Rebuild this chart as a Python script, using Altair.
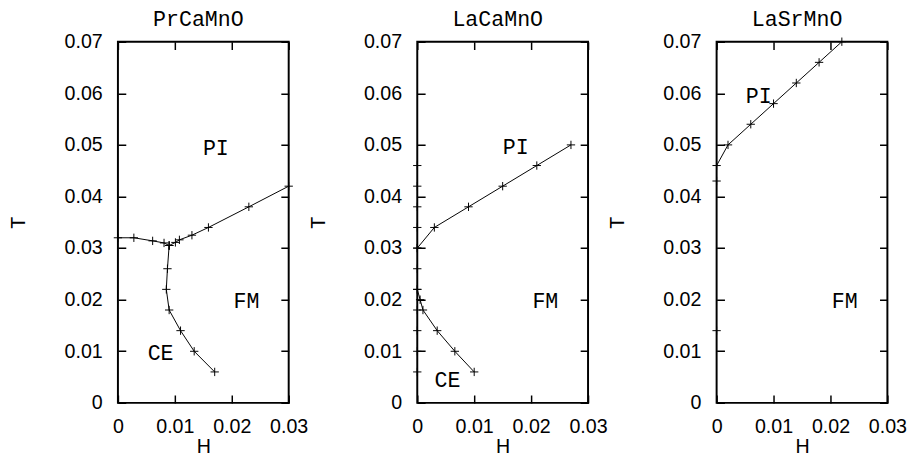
import altair as alt
import pandas as pd

# ---------------- data ----------------
titles = ["PrCaMnO", "LaCaMnO", "LaSrMnO"]

# PrCaMnO
pr_left_H = [0.0, 0.0028, 0.0061, 0.0081, 0.009]
pr_left_T = [0.032, 0.032, 0.0314, 0.031, 0.0305]
pr_right_H = [0.009, 0.0101, 0.0108, 0.013, 0.0159, 0.023, 0.030]
pr_right_T = [0.0305, 0.0311, 0.0316, 0.0325, 0.034, 0.038, 0.042]
pr_down_H = [0.009, 0.0087, 0.0085, 0.009, 0.011, 0.0134, 0.017]
pr_down_T = [0.0305, 0.026, 0.022, 0.018, 0.014, 0.010, 0.006]

# LaCaMnO
lc_pi_H = [0.0, 0.003, 0.009, 0.015, 0.021, 0.027]
lc_pi_T = [0.030, 0.034, 0.038, 0.042, 0.046, 0.050]
lc_ce_H = [0.0, 0.0005, 0.001, 0.0035, 0.0066, 0.010]
lc_ce_T = [0.022, 0.020, 0.018, 0.014, 0.010, 0.006]
lc_axis_T = [0.006, 0.010, 0.014, 0.018, 0.022, 0.026, 0.030, 0.034, 0.038, 0.042, 0.046]

# LaSrMnO
ls_pi_H = [0.0, 0.002, 0.006, 0.010, 0.014, 0.018, 0.022]
ls_pi_T = [0.046, 0.050, 0.054, 0.058, 0.062, 0.066, 0.070]
ls_axis_T = [0.043, 0.014]

# region labels
pr_labels = ["PI", "FM", "CE"]
pr_lab_H = [0.0172, 0.0226, 0.0075]
pr_lab_T = [0.0494, 0.0197, 0.0096]
lc_labels = ["PI", "FM", "CE"]
lc_lab_H = [0.0173, 0.0225, 0.0053]
lc_lab_T = [0.0495, 0.0197, 0.0045]
ls_labels = ["PI", "FM"]
ls_lab_H = [0.0074, 0.0225]
ls_lab_T = [0.0595, 0.0197]

x_range = [0, 0.03]
y_range = [0, 0.07]
x_ticks = [0, 0.01, 0.02, 0.03]
y_ticks = [0, 0.01, 0.02, 0.03, 0.04, 0.05, 0.06, 0.07]

# ---------------- helpers ----------------
W, HGT, TICK = 174, 368, 8


def line_df(segs):
    rows = []
    for name, hs, ts in segs:
        for i, (h, t) in enumerate(zip(hs, ts)):
            rows.append({"seg": name, "ord": i, "H": h, "T": t})
    return pd.DataFrame(rows)


def point_df(segs, axis_T):
    rows = []
    for _, hs, ts in segs:
        for h, t in zip(hs, ts):
            rows.append({"H": h, "T": t})
    for t in axis_T:
        rows.append({"H": 0.0, "T": t})
    return pd.DataFrame(rows)


LAB = "datum.value == 0 ? '0' : format(datum.value, '.2f')"
XS = alt.Scale(domain=x_range, nice=False, zero=False)
YS = alt.Scale(domain=y_range, nice=False, zero=False)
SANS = "Liberation Sans"
MONO = "Liberation Mono"

axis_common = dict(
    domain=False, ticks=False, tickSize=0, labelFlush=False, labelOverlap=False,
    grid=True, gridColor="black", gridOpacity=1, gridWidth=1.5,
    labelFont=SANS, labelFontSize=20, labelColor="black",
    titleFont=SANS, titleFontSize=20, titleFontWeight="normal", titleColor="black",
)
x_axis = alt.Axis(orient="bottom", values=x_ticks, labelExpr=LAB, title="H",
                  labelPadding=14, titlePadding=1,
                  gridDash=[TICK, HGT - 2 * TICK, TICK, 2 * HGT], **axis_common)
y_axis = alt.Axis(orient="left", values=y_ticks, labelExpr=LAB, title="T",
                  labelPadding=16, titlePadding=36,
                  gridDash=[TICK, W - 2 * TICK, TICK, 2 * W], **axis_common)

X_ENC = alt.X("H:Q", scale=XS, axis=x_axis)
Y_ENC = alt.Y("T:Q", scale=YS, axis=y_axis)


def panel(title, segs, axis_T, labels, lab_H, lab_T):
    ldf = line_df(segs)
    pdf = point_df(segs, axis_T)
    tdf = pd.DataFrame({"label": labels, "H": lab_H, "T": lab_T})

    lines = alt.Chart(ldf).mark_line(color="black", strokeWidth=1).encode(
        x=X_ENC, y=Y_ENC, detail="seg:N", order="ord:Q",
    )
    pts = alt.Chart(pdf).mark_point(
        shape="M-1,0L1,0M0,-1L0,1", size=72, filled=False,
        stroke="black", strokeWidth=1, opacity=1,
    ).encode(x=X_ENC, y=Y_ENC)
    txt = alt.Chart(tdf).mark_text(
        font=MONO, fontSize=22, align="center", baseline="middle", color="black"
    ).encode(x=X_ENC, y=Y_ENC, text="label:N")
    return alt.layer(lines, pts, txt).properties(
        width=W, height=HGT,
        title=alt.TitleParams(text=title, font=MONO, fontSize=22,
                              fontWeight="normal", color="black", offset=1,
                              anchor="middle", dx=-5),
    )


p1 = panel(titles[0],
           [("a", pr_left_H, pr_left_T), ("b", pr_right_H, pr_right_T),
            ("c", pr_down_H, pr_down_T)],
           [], pr_labels, pr_lab_H, pr_lab_T)
p2 = panel(titles[1],
           [("a", lc_pi_H, lc_pi_T), ("b", lc_ce_H, lc_ce_T)],
           lc_axis_T, lc_labels, lc_lab_H, lc_lab_T)
p3 = panel(titles[2],
           [("a", ls_pi_H, ls_pi_T)],
           ls_axis_T, ls_labels, ls_lab_H, ls_lab_T)

chart = alt.hconcat(p1, p2, p3, spacing=131, bounds="flush").properties(
    padding={"left": 0, "top": -5, "right": 0, "bottom": 6},
).configure_view(stroke="black", strokeWidth=2)

chart.save("out.html", embed_options={"renderer": "svg", "actions": False})
